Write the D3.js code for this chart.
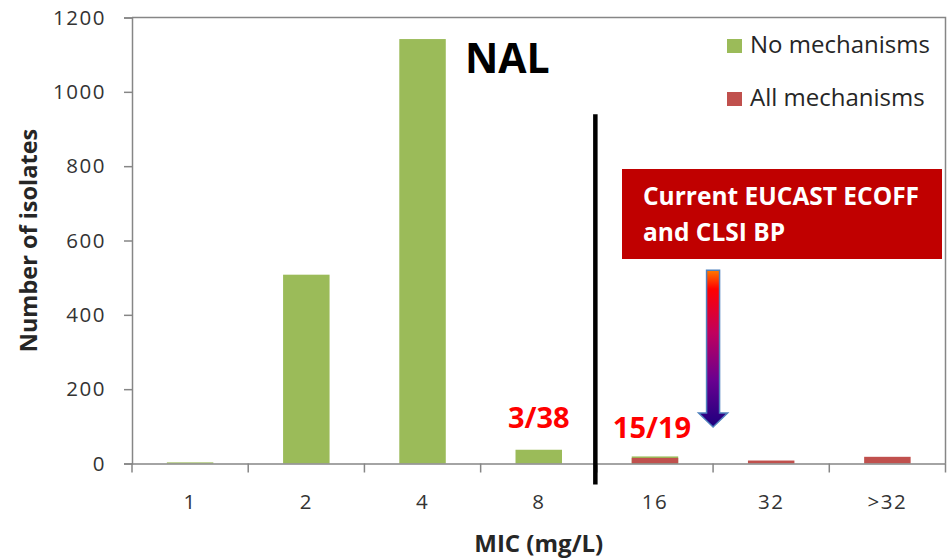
<!DOCTYPE html>
<html>
<head>
<meta charset="utf-8">
<script src="https://cdn.jsdelivr.net/npm/d3@7"></script>
<style>
  body { margin: 0; background: #fff; }
  svg { display: block; font-family: "Open Sans", sans-serif; }
</style>
</head>
<body>
<div id="canvas"></div>
<script>
const canvas = d3.select("#canvas");

// data
const categories = ["1", "2", "4", "8", "16", "32", ">32"];
const noMechanisms = [3, 508, 1142, 37, 19, 0, 0];
const allMechanisms = [0, 0, 0, 0, 15, 8, 18];
const yTicks = [0, 200, 400, 600, 800, 1000, 1200];
const seriesNames = ["No mechanisms", "All mechanisms"];
const seriesColors = ["#9bbb59", "#c0504d"];
const ratioLabels = [{ cat: "8", text: "3/38" }, { cat: "16", text: "15/19" }];

const width = 949;
const height = 560;
const margin = { top: 17.5, left: 132, bottom: 96.5, right: 3.5 };

const svg = canvas.append("svg")
    .attr("width", width)
    .attr("height", height);

const x = d3.scaleBand()
    .domain(categories)
    .range([margin.left, width - margin.right])
    .paddingInner(0.6)
    .paddingOuter(0.3);

const y = d3.scaleLinear()
    .domain([0, 1200])
    .range([height - margin.bottom, margin.top]);

const gap = (x.step() - x.bandwidth()) / 2;

// plot frame (top + right)
svg.append("path")
    .attr("d", `M${margin.left},${y(1200)}H${width - margin.right}V${y(0)}`)
    .attr("fill", "none")
    .attr("stroke", "#868686")
    .attr("stroke-width", 1.5);

// bars, green first, red drawn over it
const series = [noMechanisms, allMechanisms];
series.forEach((vals, si) => {
    svg.append("g").selectAll("rect")
        .data(vals)
        .enter().append("rect")
        .attr("x", (d, i) => x(categories[i]))
        .attr("y", d => y(d))
        .attr("width", x.bandwidth())
        .attr("height", d => y(0) - y(d))
        .attr("fill", seriesColors[si]);
});

// y axis
const yAxis = svg.append("g")
    .attr("transform", `translate(${margin.left},0)`)
    .call(d3.axisLeft(y).tickValues(yTicks).tickFormat(d3.format("d")).tickSize(8).tickPadding(18));
yAxis.select(".domain").attr("stroke", "#868686").attr("stroke-width", 1.5);
yAxis.selectAll(".tick line").attr("stroke", "#868686").attr("stroke-width", 1.5);
yAxis.selectAll(".tick text")
    .attr("font-size", 20.5)
    .attr("letter-spacing", 1.5)
    .attr("fill", "#333")
    .attr("font-family", "Open Sans");

// x axis: ticks between categories
const xAxis = svg.append("g")
    .attr("transform", `translate(0,${y(0)})`)
    .call(d3.axisBottom(x).tickSize(0).tickPadding(31));
xAxis.select(".domain").attr("stroke", "#868686").attr("stroke-width", 1.5);
xAxis.selectAll(".tick text")
    .attr("font-size", 20.5)
    .attr("letter-spacing", 1.5)
    .attr("fill", "#333")
    .attr("font-family", "Open Sans");
const bounds = categories.map(c => x(c) - gap).concat([x(categories[categories.length - 1]) + x.bandwidth() + gap]);
xAxis.selectAll(".sep")
    .data(bounds)
    .enter().append("line")
    .attr("class", "sep")
    .attr("x1", d => d).attr("x2", d => d)
    .attr("y1", 0).attr("y2", 9)
    .attr("stroke", "#868686")
    .attr("stroke-width", 1.5);

// axis titles
svg.append("text")
    .attr("x", (margin.left + width - margin.right) / 2)
    .attr("y", 552)
    .attr("text-anchor", "middle")
    .attr("font-size", 24)
    .attr("font-weight", "bold")
    .attr("fill", "#262626")
    .text("MIC (mg/L)");

svg.append("text")
    .attr("transform", `translate(37,${(y(0) + y(1200)) / 2}) rotate(-90)`)
    .attr("text-anchor", "middle")
    .attr("font-size", 23.5)
    .attr("font-weight", "bold")
    .attr("fill", "#262626")
    .text("Number of isolates");

// legend
const legend = svg.append("g").selectAll("g")
    .data(seriesNames)
    .enter().append("g")
    .attr("transform", (d, i) => `translate(727,${39 + i * 53})`);
legend.append("rect")
    .attr("width", 15).attr("height", 14)
    .attr("fill", (d, i) => seriesColors[i]);
legend.append("text")
    .attr("x", 23).attr("y", 14)
    .attr("font-size", 24)
    .attr("fill", "#262626")
    .text(d => d);

// NAL title
svg.append("text")
    .attr("x", 465).attr("y", 73)
    .attr("font-size", 41)
    .attr("font-weight", "bold")
    .attr("fill", "#000")
    .text("NAL");

// breakpoint line between 8 and 16
const bpX = x("16") - gap - 1.5;
svg.append("line")
    .attr("x1", bpX).attr("x2", bpX)
    .attr("y1", y(940)).attr("y2", y(0) + 21)
    .attr("stroke", "#000")
    .attr("stroke-width", 4.5);

// red ratio labels
svg.append("g").selectAll("text")
    .data(ratioLabels)
    .enter().append("text")
    .attr("x", d => x(d.cat) + x.bandwidth() / 2 - (d.cat === "16" ? 3 : 0))
    .attr("y", d => d.cat === "8" ? 428 : 438)
    .attr("text-anchor", "middle")
    .attr("font-size", 29)
    .attr("font-weight", "bold")
    .attr("fill", "#ff0000")
    .text(d => d.text);

// annotation box
svg.append("rect")
    .attr("x", 622).attr("y", 169)
    .attr("width", 320).attr("height", 90)
    .attr("fill", "#c00000");
svg.append("text")
    .attr("x", 643).attr("y", 205)
    .attr("font-size", 24.5)
    .attr("font-weight", "bold")
    .attr("fill", "#fff")
    .text("Current EUCAST ECOFF");
svg.append("text")
    .attr("x", 643).attr("y", 241)
    .attr("font-size", 24.5)
    .attr("font-weight", "bold")
    .attr("fill", "#fff")
    .text("and CLSI BP");

// gradient arrow at 16/32 boundary
const defs = svg.append("defs");
const grad = defs.append("linearGradient")
    .attr("id", "arrowGrad")
    .attr("gradientUnits", "userSpaceOnUse")
    .attr("x1", 0).attr("x2", 0)
    .attr("y1", y(520)).attr("y2", y(98));
[["0%", "#ff7a00"], ["12%", "#ff0000"], ["40%", "#c0005e"], ["70%", "#6a0090"], ["100%", "#1c007e"]]
    .forEach(s => grad.append("stop").attr("offset", s[0]).attr("stop-color", s[1]));

const ax = x("32") - gap;
const aTop = y(520), aBase = y(136), aTip = y(98);
svg.append("path")
    .attr("d", `M${ax - 6.5},${aTop}H${ax + 6.5}V${aBase}H${ax + 14.5}L${ax},${aTip}L${ax - 14.5},${aBase}H${ax - 6.5}Z`)
    .attr("fill", "url(#arrowGrad)")
    .attr("stroke", "#4f81bd")
    .attr("stroke-width", 1.5);
</script>
</body>
</html>
